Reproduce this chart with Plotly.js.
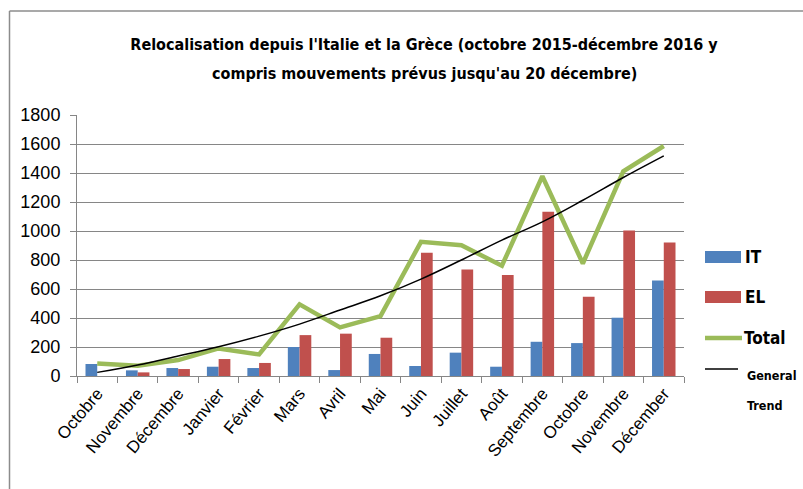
<!DOCTYPE html>
<html>
<head>
<meta charset="utf-8">
<script src="https://cdn.plot.ly/plotly-3.0.1.min.js"></script>
<style>
  html, body { margin: 0; padding: 0; background: #ffffff; }
  #chart { width: 803px; height: 489px; }
</style>
</head>
<body>
<div id="chart"></div>
<script>
// ---- Data ----
const categories = ["Octobre 2015", "Novembre 2015", "Décembre 2015", "Janvier 2016", "Février 2016",
  "Mars 2016", "Avril 2016", "Mai 2016", "Juin 2016", "Juillet 2016", "Août 2016",
  "Septembre 2016", "Octobre 2016", "Novembre 2016", "Décembre 2016"];
const tickLabels = ["Octobre", "Novembre", "Décembre", "Janvier", "Février", "Mars", "Avril", "Mai",
  "Juin", "Juillet", "Août", "Septembre", "Octobre", "Novembre", "Décember"];
const itValues = [83, 39, 55, 64, 55, 200, 41, 152, 69, 161, 64, 236, 227, 402, 659];
const elValues = [0, 25, 48, 117, 90, 282, 292, 264, 850, 735, 696, 1132, 546, 1003, 921];
const totalValues = [87, 70, 110, 190, 149, 494, 335, 413, 925, 902, 760, 1378, 776, 1412, 1586];
const trendValues = [25, 76, 138, 202, 275, 358, 455, 553, 668, 800, 937, 1063, 1212, 1369, 1518];
const seriesNames = ["IT", "EL", "Total", "General Trend"];
const yTicks = [0, 200, 400, 600, 800, 1000, 1200, 1400, 1600, 1800];
const titleLines = ["Relocalisation depuis l'Italie et la Grèce (octobre 2015-décembre 2016 y",
  "compris mouvements prévus jusqu'au 20 décembre)"];

// ---- Layout helpers (pixel -> paper) ----
const W = 803, H = 489;
const M = { l: 77, r: 119, t: 115, b: 113 };
const PW = W - M.l - M.r, PH = H - M.t - M.b;
const px = x => (x - M.l) / PW;
const py = y => (H - M.b - y) / PH;

const cIT = "#4F81BD", cEL = "#C0504D", cTot = "#9BBB59", grid = "#868686";
const tickFont = "Liberation Sans, Arial, sans-serif";
const narrowFont = "DejaVu Sans Condensed, Liberation Sans Narrow, sans-serif";

const traces = [
  { type: "bar", name: seriesNames[0], x: categories, y: itValues,
    marker: { color: cIT }, showlegend: false },
  { type: "bar", name: seriesNames[1], x: categories, y: elValues,
    marker: { color: cEL }, showlegend: false },
  { type: "scatter", mode: "lines", name: seriesNames[2], x: categories, y: totalValues,
    line: { color: cTot, width: 4.5 }, showlegend: false },
  { type: "scatter", mode: "lines", name: seriesNames[3], x: categories, y: trendValues,
    line: { color: "#000000", width: 1.5, shape: "spline" }, showlegend: false }
];

const shapes = [
  // outer chart frame (left and top edges visible)
  { type: "line", xref: "paper", yref: "paper", x0: px(9.5), x1: px(9.5), y0: py(11), y1: py(500),
    line: { color: "#8c8c8c", width: 1.5 } },
  { type: "line", xref: "paper", yref: "paper", x0: px(9.5), x1: px(810), y0: py(11), y1: py(11),
    line: { color: "#8c8c8c", width: 1.5 } },
  // legend swatches
  { type: "rect", xref: "paper", yref: "paper", x0: px(705), x1: px(741), y0: py(251), y1: py(263),
    fillcolor: cIT, line: { width: 0 } },
  { type: "rect", xref: "paper", yref: "paper", x0: px(705), x1: px(741), y0: py(291), y1: py(303),
    fillcolor: cEL, line: { width: 0 } },
  { type: "line", xref: "paper", yref: "paper", x0: px(705), x1: px(742), y0: py(338), y1: py(338),
    line: { color: cTot, width: 4.5 } },
  { type: "line", xref: "paper", yref: "paper", x0: px(705), x1: px(738), y0: py(369), y1: py(369),
    line: { color: "#000000", width: 1.5 } }
];

const legendText = (txt, x, y, size) => ({
  xref: "paper", yref: "paper", x: px(x), y: py(y), xanchor: "left", yanchor: "middle",
  text: "<b>" + txt + "</b>", showarrow: false,
  font: { family: narrowFont, size: size, color: "#000000" }
});

const annotations = [
  legendText(seriesNames[0], 743, 257, 17),
  legendText(seriesNames[1], 743, 297, 17),
  legendText(seriesNames[2], 742, 338, 17),
  legendText("General", 745, 375, 12.5),
  legendText("Trend", 745, 405, 12.5),
  {
    xref: "paper", yref: "paper", x: px(424), y: py(73), xanchor: "center", yanchor: "middle",
    text: "<b>" + titleLines[1] + "</b>", showarrow: false,
    font: { family: narrowFont, size: 16, color: "#000000" }
  }
];

const layout = {
  width: W, height: H,
  margin: M,
  paper_bgcolor: "#ffffff", plot_bgcolor: "#ffffff",
  title: {
    text: "<b>" + titleLines[0] + "</b>",
    font: { family: narrowFont, size: 16, color: "#000000" },
    xref: "paper", x: px(424), xanchor: "center",
    yref: "container", y: 1 - 44 / H, yanchor: "middle"
  },
  barmode: "group", bargap: 0.42, bargroupgap: 0,
  showlegend: false,
  xaxis: {
    type: "category",
    tickvals: categories, ticktext: tickLabels,
    tickangle: -50,
    tickson: "boundaries",
    ticks: "outside", ticklen: 6, tickcolor: grid, tickwidth: 1,
    showline: true, linecolor: grid, linewidth: 1,
    showgrid: false,
    tickfont: { family: tickFont, size: 17, color: "#000000" },
    fixedrange: true
  },
  yaxis: {
    range: [0, 1800],
    tickvals: yTicks,
    ticks: "outside", ticklen: 6, tickcolor: grid,
    ticklabelstandoff: 6,
    showline: true, linecolor: grid, linewidth: 1,
    showgrid: true, gridcolor: grid, gridwidth: 1,
    zeroline: false,
    tickfont: { family: tickFont, size: 18, color: "#000000" },
    fixedrange: true
  },
  shapes: shapes,
  annotations: annotations
};

Plotly.newPlot("chart", traces, layout, { displayModeBar: false, staticPlot: true });
</script>
</body>
</html>
